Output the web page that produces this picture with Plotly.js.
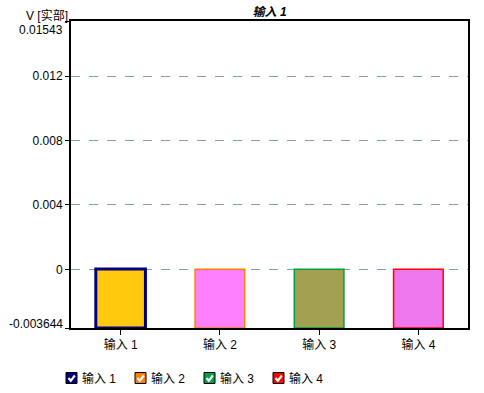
<!DOCTYPE html>
<html>
<head>
<meta charset="utf-8">
<script src="https://cdn.plot.ly/plotly-3.0.1.min.js"></script>
<style>html,body{margin:0;padding:0;background:#fff;}#chart{width:484px;height:393px;}</style>
</head>
<body>
<div id="chart"></div>
<script>
// Data
const categories = ['输入 1', '输入 2', '输入 3', '输入 4'];
const values = [0.00002, 0, 0, 0];
const yMin = -0.003644;
const yMax = 0.01543;
const yTickVals = [0, 0.004, 0.008, 0.012];
const yTickText = ['0', '0.004', '0.008', '0.012'];
const chartTitle = '输入 1';
const yAxisTitle = 'V [实部]';
const legendLabels = ['输入 1', '输入 2', '输入 3', '输入 4'];

const fillColors = ['#FFC90E', '#FF80FF', '#A3A052', '#EE77EE'];
const lineColors = ['#000080', '#FF8000', '#00A040', '#FF0000'];
const lineWidths = [3, 1.5, 1.5, 1.5];

const FONT = 'Liberation Sans, Arial, Noto Sans CJK SC, sans-serif';
const W = 484, H = 393;
const L = 71, R = 468, T = 21, B = 328;
const px2x = p => (p - L) / (R - L);
const py2y = p => (B - p) / (B - T);

const traces = categories.map((c, i) => ({
  type: 'bar',
  x: [c],
  y: [values[i] - yMin],
  base: [yMin],
  width: 0.5,
  marker: {color: fillColors[i], line: {color: lineColors[i], width: lineWidths[i]}},
  showlegend: false,
  hoverinfo: 'skip'
}));

const shapes = [];
const annotations = [];

// custom legend (checkbox style)
const legX = [66, 135, 204, 273];
const legY = 378;
legendLabels.forEach((lab, i) => {
  const x0 = legX[i], x1 = x0 + 11, y0 = legY - 5.5, y1 = legY + 5.5;
  shapes.push({type: 'rect', xref: 'paper', yref: 'paper',
    x0: px2x(x0), x1: px2x(x1), y0: py2y(y1), y1: py2y(y0),
    fillcolor: lineColors[i], line: {color: '#000', width: 1}});
  const p = [[x0 + 2.5, legY], [x0 + 4.8, legY + 2.8], [x0 + 8.8, legY - 2.5]];
  shapes.push({type: 'path', xref: 'paper', yref: 'paper',
    path: 'M' + px2x(p[0][0]) + ',' + py2y(p[0][1]) + ' L' + px2x(p[1][0]) + ',' + py2y(p[1][1]) + ' L' + px2x(p[2][0]) + ',' + py2y(p[2][1]),
    line: {color: '#fff', width: 2.2}});
  annotations.push({xref: 'paper', yref: 'paper', x: px2x(x1 + 3), y: py2y(legY),
    xanchor: 'left', yanchor: 'middle', showarrow: false, text: lab,
    font: {family: FONT, size: 12, color: '#000'}});
});

// edge y labels
annotations.push({xref: 'paper', yref: 'y', x: 0, y: yMax, xanchor: 'right', yanchor: 'middle',
  xshift: -6, yshift: -9, showarrow: false, text: String(yMax), font: {family: FONT, size: 12, color: '#000'}});
annotations.push({xref: 'paper', yref: 'y', x: 0, y: yMin, xanchor: 'right', yanchor: 'middle',
  xshift: -6, yshift: 4, showarrow: false, text: String(yMin), font: {family: FONT, size: 12, color: '#000'}});
// y axis title
annotations.push({xref: 'paper', yref: 'paper', x: 0, y: 1, xanchor: 'right', yanchor: 'middle',
  xshift: -1, yshift: 6, showarrow: false, text: yAxisTitle, font: {family: FONT, size: 12, color: '#000'}});

const layout = {
  width: W, height: H,
  margin: {l: L, r: W - R, t: T, b: H - B, pad: 0},
  paper_bgcolor: '#fff', plot_bgcolor: '#fff',
  title: {text: chartTitle, x: 0.557, xanchor: 'center', y: 1 - 12 / H, yanchor: 'middle',
    font: {family: FONT, size: 12, color: '#000', weight: 'bold', style: 'italic'}},
  bargap: 0.5,
  xaxis: {
    type: 'category', range: [-0.5, 3.5],
    showline: true, linecolor: '#000', linewidth: 2, mirror: true,
    ticks: 'outside', ticklen: 5, tickcolor: '#000', tickwidth: 1,
    showgrid: false, zeroline: false,
    tickfont: {family: FONT, size: 12, color: '#000'}
  },
  yaxis: {
    range: [yMin, yMax],
    tickvals: [yMin].concat(yTickVals, [yMax]),
    ticktext: [''].concat(yTickText, ['']),
    showline: true, linecolor: '#000', linewidth: 2, mirror: true,
    ticks: 'outside', ticklen: 4, tickcolor: '#000', tickwidth: 1,
    showgrid: true, gridcolor: '#7FA3A8', griddash: 'dash', gridwidth: 1,
    zeroline: false,
    tickfont: {family: FONT, size: 12, color: '#000'}
  },
  shapes: shapes,
  annotations: annotations,
  showlegend: false
};

Plotly.newPlot('chart', traces, layout, {staticPlot: true, displayModeBar: false});
</script>
</body>
</html>
